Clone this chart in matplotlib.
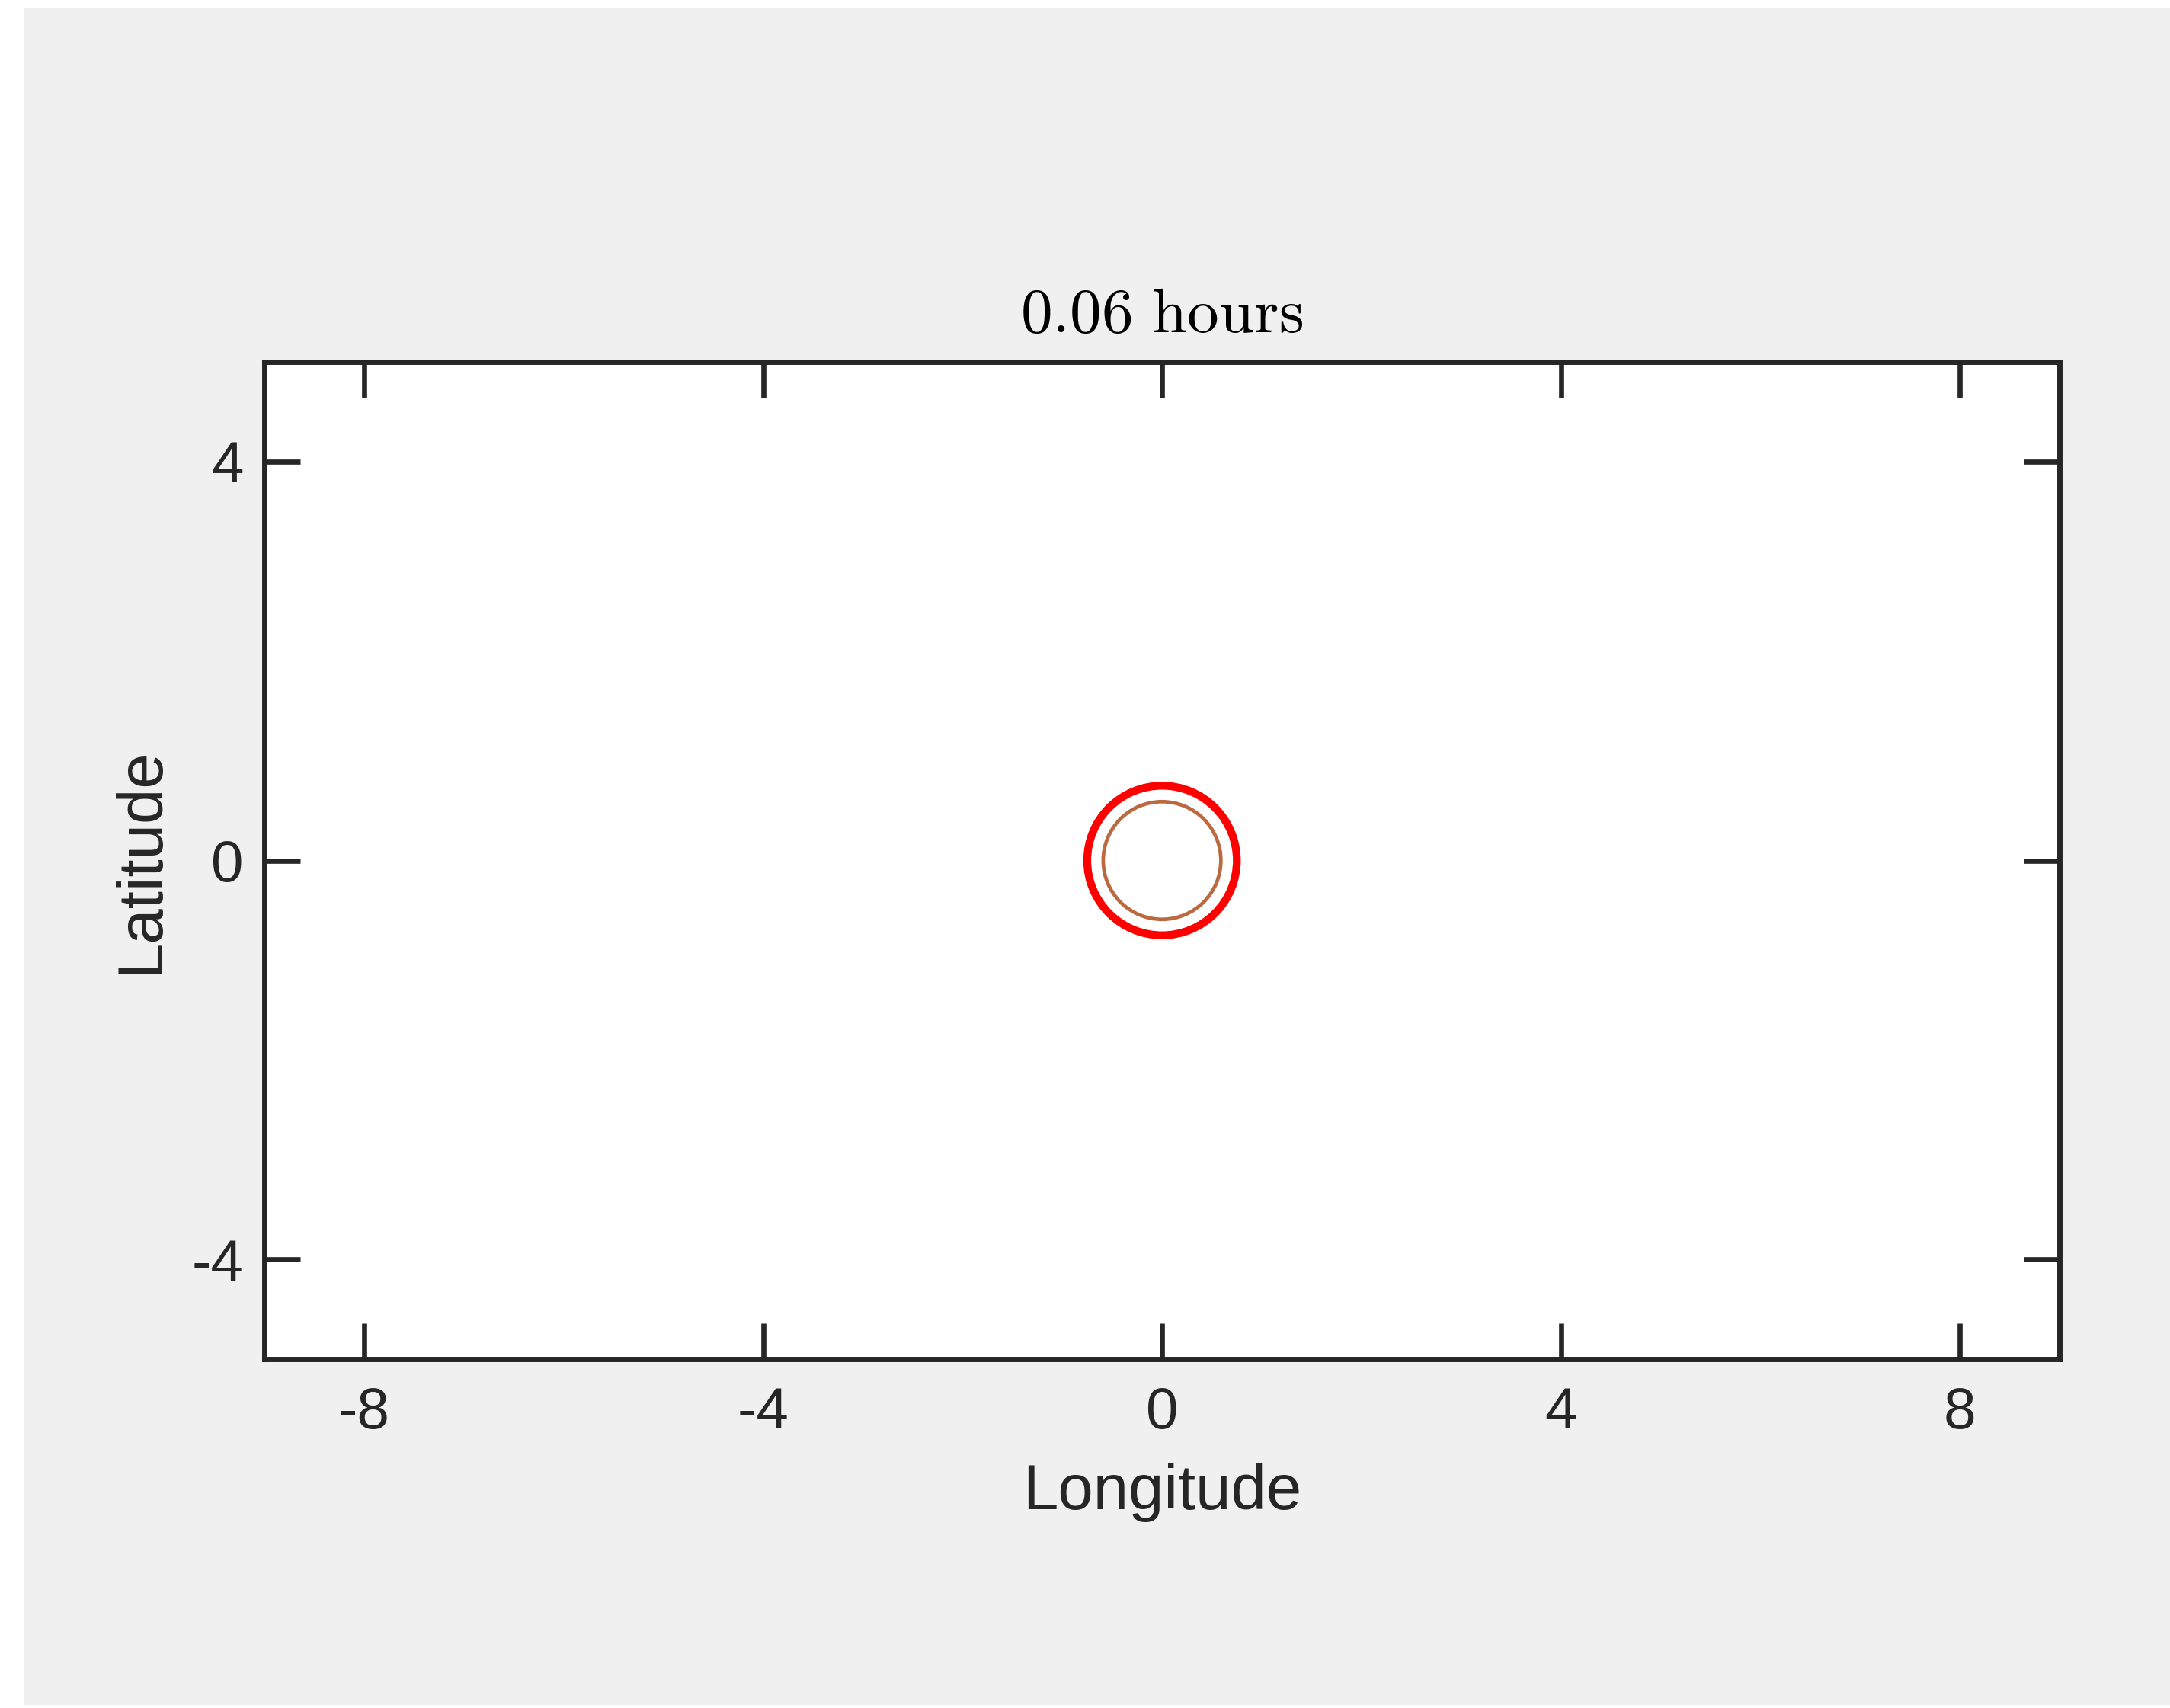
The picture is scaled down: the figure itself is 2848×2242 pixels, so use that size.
import matplotlib
matplotlib.use("Agg")
import matplotlib.pyplot as plt
from matplotlib.patches import Circle, Rectangle

# contour rings at this time step (lon, lat centre and radius in degrees)
ring_lon = [0.0, 0.0]
ring_lat = [0.0, 0.0]
ring_radius = [0.75, 0.59]
ring_color = ["#ff0000", "#bb6a40"]
ring_width = [3.7, 1.7]

xticks = [-8, -4, 0, 4, 8]
yticks = [-4, 0, 4]
time_hours = 0.06

plt.rcParams["font.family"] = ["Liberation Sans", "DejaVu Sans"]
plt.rcParams["mathtext.fontset"] = "cm"
plt.rcParams["axes.unicode_minus"] = False

dark = "#262626"
fig = plt.figure(figsize=(14.24, 11.21), dpi=200)
fig.patch.set_facecolor("white")
# grey figure panel (window background), kept behind the axes
panel = Rectangle((31 / 2848, 1 - 2238 / 2242), 1 - 31 / 2848, (2238 - 10) / 2242,
                  transform=fig.transFigure, facecolor="#f0f0f0",
                  edgecolor="none", zorder=-10)
fig.patches.append(panel)

ax = fig.add_axes([0.1215, 0.2043, 0.828, 0.5838])
ax.set_zorder(1)
ax.set_facecolor("white")
for lon, lat, r, c, w in zip(ring_lon, ring_lat, ring_radius, ring_color, ring_width):
    ax.add_patch(Circle((lon, lat), r, fill=False, edgecolor=c, linewidth=w))

ax.set_xlim(-9, 9)
ax.set_ylim(-5, 5)
ax.set_aspect("equal")
ax.set_xticks(xticks)
ax.set_yticks(yticks)
ax.tick_params(direction="in", length=17, width=2.4, color=dark, labelcolor=dark,
               labelsize=27.5, top=True, right=True)
ax.tick_params(axis="x", pad=13)
ax.tick_params(axis="y", pad=10)
for s in ax.spines.values():
    s.set_linewidth(2.5)
    s.set_color(dark)

ax.set_xlabel("Longitude", fontsize=30, color=dark, labelpad=10.5)
ax.set_ylabel("Latitude", fontsize=30, color=dark, labelpad=10)
ax.set_title(r"$\mathrm{%.2f\ hours}$" % time_hours, fontsize=30, color="black", pad=14)

fig.savefig("out.png", dpi=200)
